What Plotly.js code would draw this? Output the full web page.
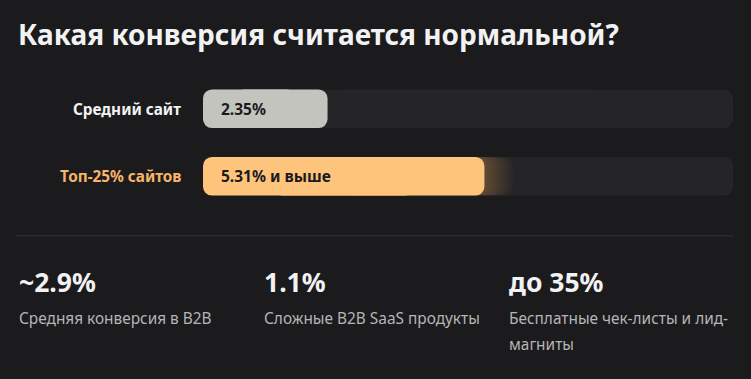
<!DOCTYPE html>
<html><head><meta charset="utf-8">
<script src="https://cdn.plot.ly/plotly-3.0.1.min.js"></script>
<style>html,body{margin:0;padding:0;background:#1b1b1d;}#chart{width:751px;height:379px;}</style>
</head><body><div id="chart"></div>
<script>
// ---- data ----
const categories = ["Средний сайт", "Топ-25% сайтов"];
const values = [2.35, 5.31];
const barLabels = ["2.35%", "5.31% и выше"];
const scaleMax = 10;
const statValues = ["~2.9%", "1.1%", "до 35%"];
const statLabels = [["Средняя конверсия в B2B"], ["Сложные B2B SaaS продукты"], ["Бесплатные чек-листы и лид-", "магниты"]];
const titleText = "Какая конверсия считается нормальной?";

// ---- styles ----
const BG = "#1b1b1d", TRACK = "#252527";
const barColors = ["#c4c4bf", "#ffc47b"];
const labelColors = ["#f2f2f2", "#f7b46a"];
const FONT = "Noto Sans";
const BW = 0.574, CR = 9;

// pixel helpers for placing text outside plot area
const L = 203, R = 733, T = 74.5, B = 210.5;
const px = x => (x - L) / (R - L);
const py = y => (B - y) / (B - T);

const ys = categories.map((_, i) => i);
const traces = [];
// a bar rounded on both ends: two overlapping pieces, each rounded at its outer end
function roundedBar(yv, xv, colors) {
  const common = {type: "bar", orientation: "h", y: yv, width: BW,
    hoverinfo: "skip", showlegend: false, marker: {color: colors, cornerradius: CR}};
  traces.push(Object.assign({}, common, {base: xv.map(v => 0.75 * v), x: xv.map(v => -0.75 * v)}));
  traces.push(Object.assign({}, common, {base: xv.map(v => 0.25 * v), x: xv.map(v => 0.75 * v)}));
}
roundedBar(ys, ys.map(() => scaleMax), TRACK);
// soft glow to the right of the top bar
for (let k = 12; k >= 1; k--) {
  traces.push({type: "bar", orientation: "h", y: [ys[1]], base: [values[1] / 2], x: [values[1] / 2 + k * 0.045], width: BW,
    marker: {color: "rgba(255,196,123,0.028)", cornerradius: CR}, hoverinfo: "skip", showlegend: false});
}
roundedBar(ys, values, barColors);

const ann = [];
ann.push({xref: "paper", yref: "paper", x: px(16), y: py(33), xanchor: "left", yanchor: "middle",
  text: "<b>" + titleText + "</b>", showarrow: false, font: {family: FONT, size: 28, color: "#f2f2f2"}});
categories.forEach((c, i) => {
  ann.push({xref: "paper", yref: "y", x: 0, xshift: -20, y: ys[i], xanchor: "right", yanchor: "middle",
    text: "<b>" + c + "</b>", showarrow: false, font: {family: FONT, size: 15.3, color: labelColors[i]}});
  ann.push({xref: "x", yref: "y", x: 0, xshift: 16, y: ys[i], xanchor: "left", yanchor: "middle",
    text: "<b>" + barLabels[i] + "</b>", showarrow: false, font: {family: FONT, size: 15.5, color: "#1b1b1d"}});
});
const colX = [17, 262, 507];
statValues.forEach((s, i) => {
  ann.push({xref: "paper", yref: "paper", x: px(colX[i]), y: py(283), xanchor: "left", yanchor: "middle",
    text: "<b>" + s + "</b>", showarrow: false, font: {family: FONT, size: 26.5, color: "#f2f2f2"}});
  statLabels[i].forEach((ln, j) => {
    ann.push({xref: "paper", yref: "paper", x: px(colX[i]), y: py(320 + j * 26), xanchor: "left", yanchor: "middle",
      text: ln, showarrow: false, font: {family: FONT, size: 15.4, color: "#b5b5b5"}});
  });
});

const layout = {
  width: 751, height: 379, paper_bgcolor: BG, plot_bgcolor: BG,
  margin: {l: L, r: 751 - R, t: T, b: 379 - B, pad: 0},
  barmode: "overlay", showlegend: false,
  xaxis: {range: [0, scaleMax], visible: false, fixedrange: true},
  yaxis: {range: [1.5, -0.5], visible: false, fixedrange: true},
  annotations: ann,
  shapes: [{type: "line", xref: "paper", yref: "paper", x0: px(16), x1: px(733), y0: py(236.5), y1: py(236.5),
    line: {color: "#333336", width: 1}}]
};
Plotly.newPlot("chart", traces, layout, {staticPlot: true, displayModeBar: false});
</script></body></html>
